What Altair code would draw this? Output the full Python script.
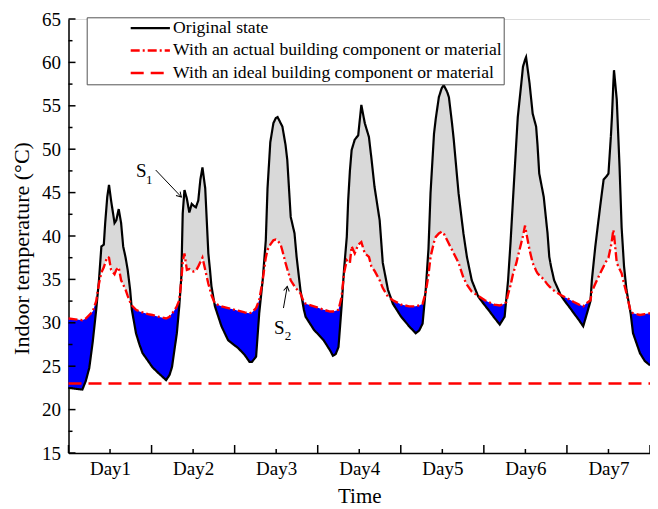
import json
import math
import altair as alt
import pandas as pd

# ---------------- data ----------------
hours = [0, 2, 4, 5, 6, 7, 8, 8.8, 9.5, 10.2, 10.6, 11.2, 11.7, 12.3, 13.3, 13.8, 14.5, 15.2, 15.8, 16.5,
         17.1, 17.8, 18.3, 19.5, 20.5, 21.4, 23, 24.2, 26, 28.2, 29.2, 29.9, 30.4, 31.3, 32.0, 32.6, 33.0,
         33.5, 34.2, 34.9, 35.6, 36.1, 36.8, 37.5, 38.1, 38.7, 39.5, 40.4, 40.9, 41.3, 42.3, 44.2, 46.1,
         48.0, 49.0, 50.9, 52.3, 53.0, 54.2, 55.1, 56.1, 57.0, 57.5, 58.3, 59.2, 59.9, 60.4, 61.3, 61.8,
         62.7, 63.2, 64.2, 65.3, 65.9, 67.0, 68.0, 68.5, 70.9, 73.7, 75.6, 76.4, 77.2, 78.0, 78.9, 79.6,
         80.4, 80.8, 81.3, 81.8, 82.7, 83.7, 84.6, 85.6, 86.8, 87.5, 88.4, 89.9, 90.8, 92.3, 93.7, 96.1,
         98.4, 100.3, 101.3, 102.3, 103.2, 104.0, 104.6, 105.6, 106.1, 107.0, 107.8, 108.4, 109.4, 109.9,
         110.8, 111.3, 112.7, 114.1, 115.1, 116.5, 118.4, 120.3, 121.3, 123.0, 124.6, 126.0, 126.5, 127.0,
         127.7, 128.4, 129.4, 129.8, 130.8, 131.3, 131.9, 132.2, 133.2, 134.1, 135.1, 135.5, 136.0, 137.3,
         138.4, 138.9, 139.4, 140.3, 142.2, 143.2, 145.1, 146.0, 147.5, 148.7, 149.8, 150.8, 151.2, 152.2,
         153.6, 154.6, 155.5, 156.0, 156.7, 157.0, 157.4, 157.6, 158.4, 159.2, 159.8, 160.5, 161.2, 162.4,
         163.1, 165.1, 166.5, 168.0]

original_state = [22.5, 22.4, 22.3, 23.3, 24.8, 27.8, 31.5, 34.9, 38.8, 39.0, 41.5, 44.5, 45.9, 44.1, 41.5,
                  41.8, 43.1, 41.5, 38.8, 37.5, 36.1, 33.8, 31.5, 28.8, 27.5, 26.5, 25.6, 24.9, 24.2, 23.4,
                  24.0, 24.9, 26.3, 28.8, 31.9, 35.3, 42.6, 45.3, 44.3, 42.7, 43.7, 43.5, 43.3, 44.1, 46.5,
                  47.9, 45.5, 38.0, 36.0, 34.2, 31.9, 29.6, 28.0, 27.4, 27.1, 26.3, 25.5, 25.5, 26.1, 31.1,
                  34.9, 39.5, 45.5, 50.8, 53.0, 53.6, 53.7, 53.0, 52.6, 50.5, 48.8, 42.2, 40.3, 37.6, 33.8,
                  31.5, 30.7, 29.2, 28.0, 26.8, 26.2, 26.4, 27.2, 31.9, 36.1, 39.9, 44.1, 47.5, 49.9, 51.1,
                  51.6, 55.1, 53.0, 51.4, 49.0, 45.7, 41.8, 36.9, 33.8, 32.2, 30.7, 29.6, 28.8, 29.1, 29.9,
                  33.8, 38.5, 45.0, 51.8, 53.5, 56.0, 57.0, 57.4, 56.6, 56.0, 53.0, 51.1, 44.9, 40.3, 37.6,
                  34.9, 33.0, 32.0, 31.5, 30.6, 29.8, 30.7, 32.8, 34.9, 39.2, 44.1, 51.0, 53.7, 57.5, 59.5,
                  60.3, 60.6, 57.6, 54.1, 52.6, 50.5, 47.2, 44.5, 40.3, 37.6, 36.5, 34.9, 33.2, 32.6, 31.6,
                  31.1, 30.3, 29.6, 31.1, 32.5, 34.9, 38.8, 43.4, 46.5, 46.9, 47.2, 51.5, 53.7, 57.5, 59.1,
                  55.7, 48.0, 41.0, 36.5, 33.8, 31.1, 28.8, 26.5, 25.6, 25.1]

actual_component = [30.5, 30.4, 30.3, 30.5, 30.9, 31.3, 32.5, 34.5, 35.8, 36.4, 36.9, 37.6, 37.5, 36.1, 35.6,
                    36.1, 36.4, 34.9, 34.4, 33.8, 33.1, 32.4, 32.0, 31.5, 31.3, 31.2, 31.0, 30.9, 30.7, 30.5,
                    30.7, 31.1, 31.3, 31.9, 32.6, 34.9, 37.0, 38.0, 36.1, 36.2, 36.0, 35.9, 36.0, 36.5, 37.0,
                    37.5, 36.1, 34.5, 33.8, 33.2, 32.2, 31.9, 31.7, 31.5, 31.4, 31.2, 31.1, 31.2, 31.7, 32.6,
                    34.9, 37.5, 38.4, 39.0, 39.5, 39.6, 39.5, 39.0, 38.3, 36.9, 36.2, 34.9, 34.2, 33.9, 33.4,
                    32.4, 32.2, 31.9, 31.5, 31.3, 31.3, 31.4, 31.5, 33.0, 35.7, 37.2, 37.0, 36.9, 38.8, 38.0,
                    39.0, 39.3, 38.0, 37.6, 36.5, 36.0, 34.9, 34.0, 33.0, 32.6, 32.1, 31.9, 31.9, 32.0, 32.2,
                    33.5, 35.5, 37.6, 39.3, 39.9, 40.3, 40.5, 40.3, 39.5, 39.1, 38.4, 38.0, 36.9, 35.2, 34.4,
                    33.6, 33.1, 32.6, 32.4, 32.1, 32.0, 32.2, 32.4, 33.3, 34.3, 35.6, 36.9, 37.6, 39.2, 40.0,
                    41.2, 40.5, 38.4, 36.9, 36.0, 35.7, 35.5, 35.0, 34.4, 34.2, 34.0, 33.7, 33.2, 33.0, 32.6,
                    32.4, 32.1, 31.9, 32.3, 32.6, 33.6, 34.5, 35.7, 36.5, 37.2, 37.5, 38.8, 39.5, 40.7, 40.2,
                    36.9, 36.2, 35.7, 34.5, 33.4, 31.3, 31.1, 30.9, 31.0, 31.1]

ideal_hours = [0, 168]
ideal_component = [23, 23]

series_names = ["Original state",
                "With an actual building component or material",
                "With an ideal building component or material"]

day_labels = ["Day1", "Day2", "Day3", "Day4", "Day5", "Day6", "Day7"]
day_centers = [12, 36, 60, 84, 108, 132, 156]
day_bounds = [0, 24, 48, 72, 96, 120, 144, 168]
y_major = [15, 20, 25, 30, 35, 40, 45, 50, 55, 60, 65]
y_minor = [17.5, 22.5, 27.5, 32.5, 37.5, 42.5, 47.5, 52.5, 57.5, 62.5]

# annotations (in data units: hours, degC)
ann_main = ["S", "S"]
ann_main_h = [21.0, 60.9]
ann_main_t = [47.5, 29.4]
ann_sub = ["1", "2"]
ann_sub_h = [23.3, 63.4]
ann_sub_t = [46.5, 28.5]
arrow_h1 = [25.2, 62.1]
arrow_t1 = [47.6, 31.7]
arrow_h2 = [32.6, 63.2]
arrow_t2 = [44.5, 34.2]

# ---------------- layout / style ----------------
W, H = 581.5, 434
FONT = "Liberation Serif"
xs = alt.Scale(domain=[0, 168], nice=False, zero=False)
ys = alt.Scale(domain=[15, 65], nice=False, zero=False)

fill_df = pd.DataFrame({"h": hours, "B": original_state, "R": actual_component})
fill_df["top"] = fill_df[["B", "R"]].max(axis=1)

rows = []
for h, b, r in zip(hours, original_state, actual_component):
    rows.append({"h": h, "T": b, "series": series_names[0]})
    rows.append({"h": h, "T": r, "series": series_names[1]})
for h, t in zip(ideal_hours, ideal_component):
    rows.append({"h": h, "T": t, "series": series_names[2]})
lines_df = pd.DataFrame(rows)

x_axis = alt.Axis(values=day_centers,
                  labelExpr=f"{json.dumps(day_labels)}[round((datum.value - 12) / 24)]",
                  ticks=False, grid=False, domainColor="black", domainWidth=1.5,
                  labelFont=FONT, labelFontSize=19, labelColor="black", labelPadding=6,
                  labelOverlap=False, labelFlush=False,
                  title="Time", titleFont=FONT, titleFontSize=21, titleFontWeight="normal",
                  titleColor="black", titlePadding=7)
y_axis = alt.Axis(values=y_major, ticks=False, grid=False, domainColor="black", domainWidth=1.5,
                  labelFont=FONT, labelFontSize=19, labelColor="black", labelPadding=8,
                  labelOverlap=False, labelFlush=False,
                  title="Indoor temperature (°C)", titleFont=FONT, titleFontSize=22,
                  titleFontWeight="normal", titleColor="black",
                  titleAngle=270, titleAlign="center", titleBaseline="alphabetic",
                  titleX=-40, titleY=229)


def X(field):
    return alt.X(field, scale=xs, axis=x_axis)


def Y(field):
    return alt.Y(field, scale=ys, axis=y_axis)


gray = alt.Chart(fill_df).mark_area(color="#d9d9d9", opacity=1).encode(
    x=X("h:Q"), y=Y("top:Q"), y2="R:Q")
blue = alt.Chart(fill_df).mark_area(color="#0000ff", opacity=1).encode(
    x=X("h:Q"), y=Y("top:Q"), y2="B:Q")

leg = alt.Legend(title=None, orient="none", legendX=18.2, legendY=-1.7, direction="vertical",
                 strokeColor="#555555", fillColor="white", padding=2, cornerRadius=0,
                 labelFont=FONT, labelFontSize=17.6, labelColor="black", labelLimit=1000,
                 symbolType="M-2.8,0H2.8", symbolSize=196, symbolStrokeWidth=2.5,
                 symbolOffset=52.8, labelOffset=14, rowPadding=3.4)

lines = alt.Chart(lines_df).mark_line(interpolate="linear").encode(
    x=X("h:Q"), y=Y("T:Q"),
    color=alt.Color("series:N", scale=alt.Scale(domain=series_names,
                                                range=["#000000", "#ff0000", "#ff0000"]), legend=leg),
    strokeDash=alt.StrokeDash("series:N", scale=alt.Scale(domain=series_names,
                                                          range=[[1, 0], [9, 3, 2, 3], [13, 7]]), legend=leg),
    strokeWidth=alt.StrokeWidth("series:N", scale=alt.Scale(domain=series_names, range=[2.2, 2.5, 3]),
                                legend=None),
)

ymaj = alt.Chart(pd.DataFrame({"v": y_major})).mark_rule(color="black", strokeWidth=1.5).encode(
    y=Y("v:Q"), x=alt.value(0), x2=alt.value(7))
ymin = alt.Chart(pd.DataFrame({"v": y_minor})).mark_rule(color="black", strokeWidth=1.5).encode(
    y=Y("v:Q"), x=alt.value(0), x2=alt.value(4))
xmaj = alt.Chart(pd.DataFrame({"v": day_bounds})).mark_rule(color="black", strokeWidth=1.5).encode(
    x=X("v:Q"), y=alt.value(H), y2=alt.value(H - 8))
xmin = alt.Chart(pd.DataFrame({"v": day_centers})).mark_rule(color="black", strokeWidth=1.5).encode(
    x=X("v:Q"), y=alt.value(H), y2=alt.value(H - 4))

main_txt = alt.Chart(pd.DataFrame({"h": ann_main_h, "T": ann_main_t, "s": ann_main})).mark_text(
    font=FONT, fontSize=19, color="black", align="center", baseline="middle").encode(
    x=X("h:Q"), y=Y("T:Q"), text="s:N")
sub_txt = alt.Chart(pd.DataFrame({"h": ann_sub_h, "T": ann_sub_t, "s": ann_sub})).mark_text(
    font=FONT, fontSize=13, color="black", align="center", baseline="middle").encode(
    x=X("h:Q"), y=Y("T:Q"), text="s:N")

angles = [math.degrees(math.atan2(-(t2 - t1) * H / 50.0, (h2 - h1) * W / 168.0)) % 360
          for h1, t1, h2, t2 in zip(arrow_h1, arrow_t1, arrow_h2, arrow_t2)]
arrow_df = pd.DataFrame({"h1": arrow_h1, "t1": arrow_t1, "h2": arrow_h2, "t2": arrow_t2, "a": angles})
arrows = alt.Chart(arrow_df).mark_rule(color="black", strokeWidth=1).encode(
    x=X("h1:Q"), y=Y("t1:Q"), x2="h2:Q", y2="t2:Q")
heads = alt.Chart(arrow_df).mark_point(shape="M-1,-0.6L0,0L-1,0.6", filled=False, color="black",
                                       size=90, strokeWidth=1, opacity=1).encode(
    x=X("h2:Q"), y=Y("t2:Q"), angle=alt.Angle("a:Q", scale=None))

chart = alt.layer(gray, blue, lines, ymaj, ymin, xmaj, xmin, arrows, heads, main_txt, sub_txt).properties(
    width=W, height=H,
    padding={"left": 60.5, "top": 11, "right": 0, "bottom": 56},
    autosize=alt.AutoSizeParams(type="none"),
).configure_view(stroke=None).configure(font=FONT)

chart.save("out.html", embed_options={"renderer": "svg", "actions": False})
